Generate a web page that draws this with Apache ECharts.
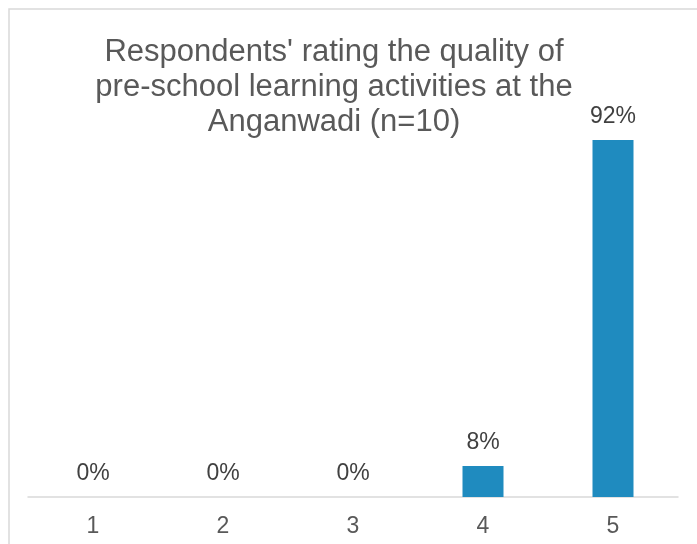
<!DOCTYPE html>
<html>
<head>
<meta charset="utf-8">
<script src="https://cdn.jsdelivr.net/npm/echarts@6/dist/echarts.min.js"></script>
<style>html,body{margin:0;padding:0;background:#fff;}#c{width:697px;height:544px;}</style>
</head>
<body>
<div id="c"></div>
<script>
const categories = ['1', '2', '3', '4', '5'];
const values = [0, 0, 0, 0.08, 0.92];
const titleText = "Respondents' rating the quality of\npre-school learning activities at the\nAnganwadi (n=10)";

const chart = echarts.init(document.getElementById('c'));
chart.setOption({
  animation: false,
  backgroundColor: '#fff',
  title: {
    text: titleText,
    left: 334,
    textAlign: 'center',
    top: 35,
    padding: 0,
    textStyle: {
      fontFamily: 'Liberation Sans',
      fontSize: 31,
      fontWeight: 'normal',
      color: '#595959',
      lineHeight: 35
    }
  },
  graphic: [{
    type: 'rect',
    shape: { x: 9, y: 9, width: 720, height: 560 },
    style: { fill: 'none', stroke: '#d9d9d9', lineWidth: 1.5 },
    silent: true,
    z: -1
  }],
  grid: { left: 28, right: 19, top: 109, bottom: 47 },
  xAxis: {
    type: 'category',
    data: categories,
    axisLine: { lineStyle: { color: '#d9d9d9', width: 1.5 } },
    axisTick: { show: false },
    axisLabel: { color: '#595959', fontSize: 23, fontFamily: 'Liberation Sans', margin: 18 }
  },
  yAxis: {
    type: 'value',
    min: 0,
    max: 1,
    show: false,
    splitLine: { show: false }
  },
  series: [{
    type: 'bar',
    data: values,
    barWidth: 41,
    itemStyle: { color: '#1f8bbf' },
    label: {
      show: true,
      position: 'top',
      distance: 12,
      color: '#404040',
      fontSize: 23,
      fontFamily: 'Liberation Sans',
      formatter: p => Math.round(p.value * 100) + '%'
    }
  }]
});
</script>
</body>
</html>
